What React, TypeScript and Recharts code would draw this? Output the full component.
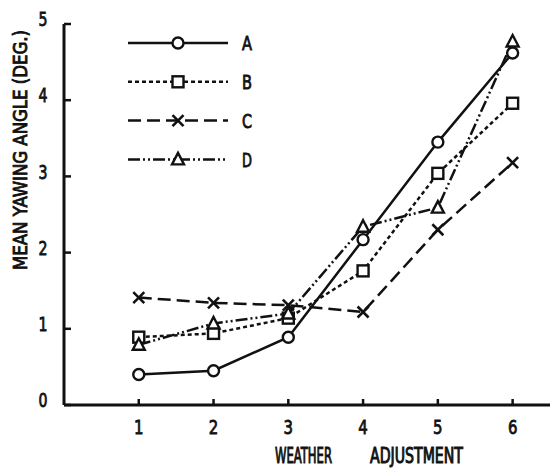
import React, { useLayoutEffect, useRef, useState } from 'react';
import { LineChart, Line, XAxis, YAxis, Legend } from 'recharts';

const categories = [1, 2, 3, 4, 5, 6];
const seriesA = [0.4, 0.45, 0.89, 2.17, 3.45, 4.62];
const seriesB = [0.89, 0.94, 1.14, 1.76, 3.04, 3.96];
const seriesC = [1.41, 1.34, 1.31, 1.22, 2.3, 3.18];
const seriesD = [0.79, 1.07, 1.2, 2.34, 2.59, 4.77];
const yTicks = [0, 1, 2, 3, 4, 5];
const seriesNames = ['A', 'B', 'C', 'D'];

const data = categories.map((c, i) => ({
  x: c,
  A: seriesA[i],
  B: seriesB[i],
  C: seriesC[i],
  D: seriesD[i],
}));

const INK = '#111';
const FONT = '"DejaVu Sans Condensed", "DejaVu Sans", sans-serif';

const dashes: Record<string, string | undefined> = {
  A: undefined,
  B: '4 3',
  C: '13 6',
  D: '12 3 2 3 2 3',
};

function Marker({ kind, cx, cy }: { kind: string; cx: number; cy: number }) {
  const s = 5.5;
  if (kind === 'A') {
    return <circle cx={cx} cy={cy} r={5.5} fill="#fff" stroke={INK} strokeWidth={2.4} />;
  }
  if (kind === 'B') {
    return <rect x={cx - s} y={cy - s} width={2 * s} height={2 * s} fill="#fff" stroke={INK} strokeWidth={2.4} />;
  }
  if (kind === 'C') {
    return (
      <g stroke={INK} strokeWidth={2.6}>
        <line x1={cx - s} y1={cy - s} x2={cx + s} y2={cy + s} />
        <line x1={cx - s} y1={cy + s} x2={cx + s} y2={cy - s} />
      </g>
    );
  }
  return (
    <polygon
      points={`${cx},${cy - 6.5} ${cx + 6},${cy + 5} ${cx - 6},${cy + 5}`}
      fill="#fff"
      stroke={INK}
      strokeWidth={2.4}
    />
  );
}

const makeDot = (kind: string) => (props: any) => {
  const { cx, cy, index } = props;
  if (cx == null || cy == null) return <g key={`${kind}-${index}`} />;
  return <Marker key={`${kind}-${index}`} kind={kind} cx={cx} cy={cy} />;
};

function NarrowText({ x, y, len, size, children, rotate, weight = 0.8 }: any) {
  const ref = useRef<SVGTextElement>(null);
  const [sx, setSx] = useState(1);
  useLayoutEffect(() => {
    if (len && ref.current) {
      const w = ref.current.getComputedTextLength();
      if (w > 0) {
        const s = len / w;
        if (Math.abs(s - sx) > 0.001) setSx(s);
      }
    }
  });
  const tf = `translate(${x} ${y})${rotate ? ` rotate(${rotate})` : ''} scale(${sx} 1)`;
  return (
    <text
      ref={ref}
      x={0}
      y={0}
      textAnchor="middle"
      dominantBaseline="central"
      fontSize={size}
      fontFamily={FONT}
      fill={INK}
      stroke={INK}
      strokeWidth={weight}
      transform={tf}
    >
      {children}
    </text>
  );
}

function YTick(props: any) {
  const { x, y, payload } = props;
  return (
    <g>
      <line x1={x} y1={y} x2={x + 7} y2={y} stroke={INK} strokeWidth={2.5} />
      <NarrowText x={x - 21} y={y - 5} size={20} len={9}>
        {payload.value}
      </NarrowText>
    </g>
  );
}

function XTick(props: any) {
  const { x, y, payload } = props;
  return (
    <g>
      <line x1={x} y1={y} x2={x} y2={y - 6} stroke={INK} strokeWidth={2.5} />
      <NarrowText x={x} y={y + 22} size={20} len={9.5}>
        {payload.value}
      </NarrowText>
    </g>
  );
}

function LegendBox() {
  return (
    <svg width={150} height={150}>
      {seriesNames.map((n, i) => {
        const y = 13 + i * 38.8;
        return (
          <g key={n}>
            <line x1={0} y1={y} x2={100} y2={y} stroke={INK} strokeWidth={2.5} strokeDasharray={dashes[n]} />
            <Marker kind={n} cx={50} cy={y} />
            <NarrowText x={119} y={y + 1} size={19} len={10}>
              {n}
            </NarrowText>
          </g>
        );
      })}
    </svg>
  );
}

export default function App() {
  return (
    <div style={{ position: 'absolute', left: 0, top: 0, width: 550, height: 471, background: '#fff' }}>
      <LineChart width={550} height={471} data={data} margin={{ top: 24, right: 0, left: 0, bottom: 16 }}>
        <XAxis
          dataKey="x"
          type="number"
          domain={[0, 6.5]}
          ticks={categories}
          tickSize={0}
          tickMargin={0}
          tick={<XTick />}
          axisLine={{ stroke: INK, strokeWidth: 3 }}
          height={50}
          label={{
            content: (p: any) => {
              const vb = p.viewBox || { x: 64, y: 405, width: 486, height: 50 };
              const yy = vb.y + 50.5;
              return (
                <g>
                  <NarrowText x={303.5} y={yy} len={57} size={21} weight={1}>
                    WEATHER
                  </NarrowText>
                  <NarrowText x={416.5} y={yy} len={93} size={21} weight={1}>
                    ADJUSTMENT
                  </NarrowText>
                </g>
              );
            },
          }}
        />
        <YAxis
          type="number"
          domain={[0, 5]}
          ticks={yTicks}
          tickSize={0}
          tickMargin={0}
          tick={<YTick />}
          axisLine={{ stroke: INK, strokeWidth: 3 }}
          width={64}
          label={{
            content: (p: any) => {
              const vb = p.viewBox || { x: 0, y: 24, width: 64, height: 381 };
              const cx = vb.x + 20.5;
              const cy = vb.y + 126;
              return (
                <NarrowText x={cx} y={cy} len={240} size={20} rotate={-90} weight={0.9}>
                  MEAN YAWING ANGLE (DEG.)
                </NarrowText>
              );
            },
          }}
        />
        <Legend
          layout="vertical"
          align="center"
          verticalAlign="middle"
          content={() => <LegendBox />}
          wrapperStyle={{ position: 'absolute', left: 128, top: 30, width: 150, height: 150, right: 'auto', bottom: 'auto' }}
        />
        {seriesNames.map((n) => (
          <Line
            key={n}
            dataKey={n}
            type="linear"
            stroke={INK}
            strokeWidth={2.5}
            strokeDasharray={dashes[n]}
            dot={makeDot(n)}
            activeDot={false}
            isAnimationActive={false}
          />
        ))}
      </LineChart>
    </div>
  );
}
